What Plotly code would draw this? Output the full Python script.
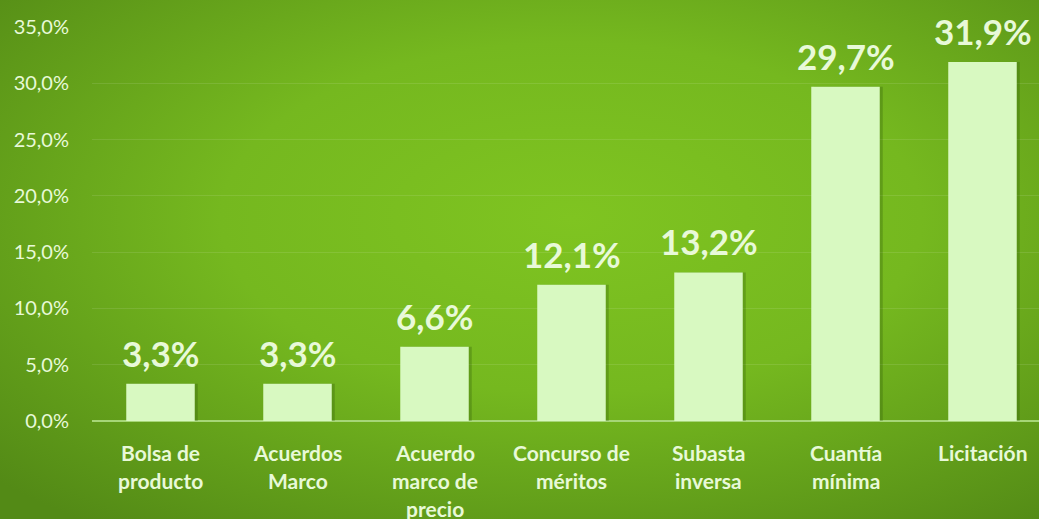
import base64
import plotly.graph_objects as go

categories = ["Bolsa de<br>producto", "Acuerdos<br>Marco", "Acuerdo<br>marco de<br>precio",
              "Concurso de<br>méritos", "Subasta<br>inversa", "Cuantía<br>mínima", "Licitación"]
values = [3.3, 3.3, 6.6, 12.1, 13.2, 29.7, 31.9]
y_ticks = [0, 5, 10, 15, 20, 25, 30, 35]
y_tick_labels = [f"{v:.1f}%".replace(".", ",") for v in y_ticks]

W, H = 1039, 519
ML, MR, MT, MB = 92, 0, 27, 98
PW, PH = W - ML - MR, H - MT - MB
SLOT = 137.0

FONT = "Lato"
TXT = "#e8f9d8"

svg = f'''<svg xmlns="http://www.w3.org/2000/svg" width="{W}" height="{H}">
<defs><radialGradient id="g" cx="0.55" cy="0.42" r="0.75" gradientUnits="objectBoundingBox">
<stop offset="0" stop-color="#7fc421"/><stop offset="0.45" stop-color="#75b81f"/>
<stop offset="1" stop-color="#538a16"/></radialGradient></defs>
<rect width="{W}" height="{H}" fill="url(#g)"/></svg>'''
bg = "data:image/svg+xml;base64," + base64.b64encode(svg.encode()).decode()

x_idx = list(range(len(categories)))

fig = go.Figure()
# soft shadow behind bars
fig.add_trace(go.Bar(
    x=x_idx, y=values, width=0.5, offset=-0.25 + 3 / SLOT,
    marker=dict(color="rgba(30,70,5,0.25)", line=dict(width=0)),
    hoverinfo="skip",
))
fig.add_trace(go.Bar(
    x=x_idx, y=values, width=0.5, offset=-0.25,
    marker=dict(color="#d8f9c1", line=dict(width=0)),
    hoverinfo="skip",
))

annotations = []
for i, v in enumerate(values):
    annotations.append(dict(
        x=i, xref="x", y=v, yref="y", yanchor="bottom", yshift=8,
        text=f"<b>{v:.1f}%</b>".replace(".", ","), showarrow=False,
        font=dict(family=FONT, size=35, color=TXT)))
for i, lab in enumerate(categories):
    for j, line in enumerate(lab.split("<br>")):
        annotations.append(dict(
            x=i, xref="x", y=0, yref="paper", yanchor="middle",
            yshift=-31 - 28 * j, text=f"<b>{line}</b>", showarrow=False,
            font=dict(family=FONT, size=21, color=TXT)))

fig.update_layout(
    width=W, height=H,
    margin=dict(l=ML, r=MR, t=MT, b=MB),
    paper_bgcolor="rgba(0,0,0,0)", plot_bgcolor="rgba(0,0,0,0)",
    showlegend=False,
    barmode="overlay",
    annotations=annotations,
    images=[dict(source=bg, xref="paper", yref="paper",
                 x=-ML / PW, y=1 + MT / PH, sizex=W / PW, sizey=H / PH,
                 xanchor="left", yanchor="top", sizing="stretch", layer="below")],
    xaxis=dict(range=[-0.5, -0.5 + PW / SLOT], showticklabels=False, showgrid=False,
               zeroline=False, fixedrange=True),
    yaxis=dict(range=[0, 35], tickvals=y_ticks, ticktext=y_tick_labels,
               tickfont=dict(family=FONT, size=20, color=TXT),
               showgrid=True, gridcolor="rgba(255,255,255,0.10)", gridwidth=1,
               zeroline=True, zerolinecolor="#a6d677", zerolinewidth=2,
               ticklabelstandoff=22, showline=False),
)

fig.write_html("out.html", config={"displayModeBar": False},
               post_script="document.body.style.margin='0';document.body.style.overflow='hidden';")
